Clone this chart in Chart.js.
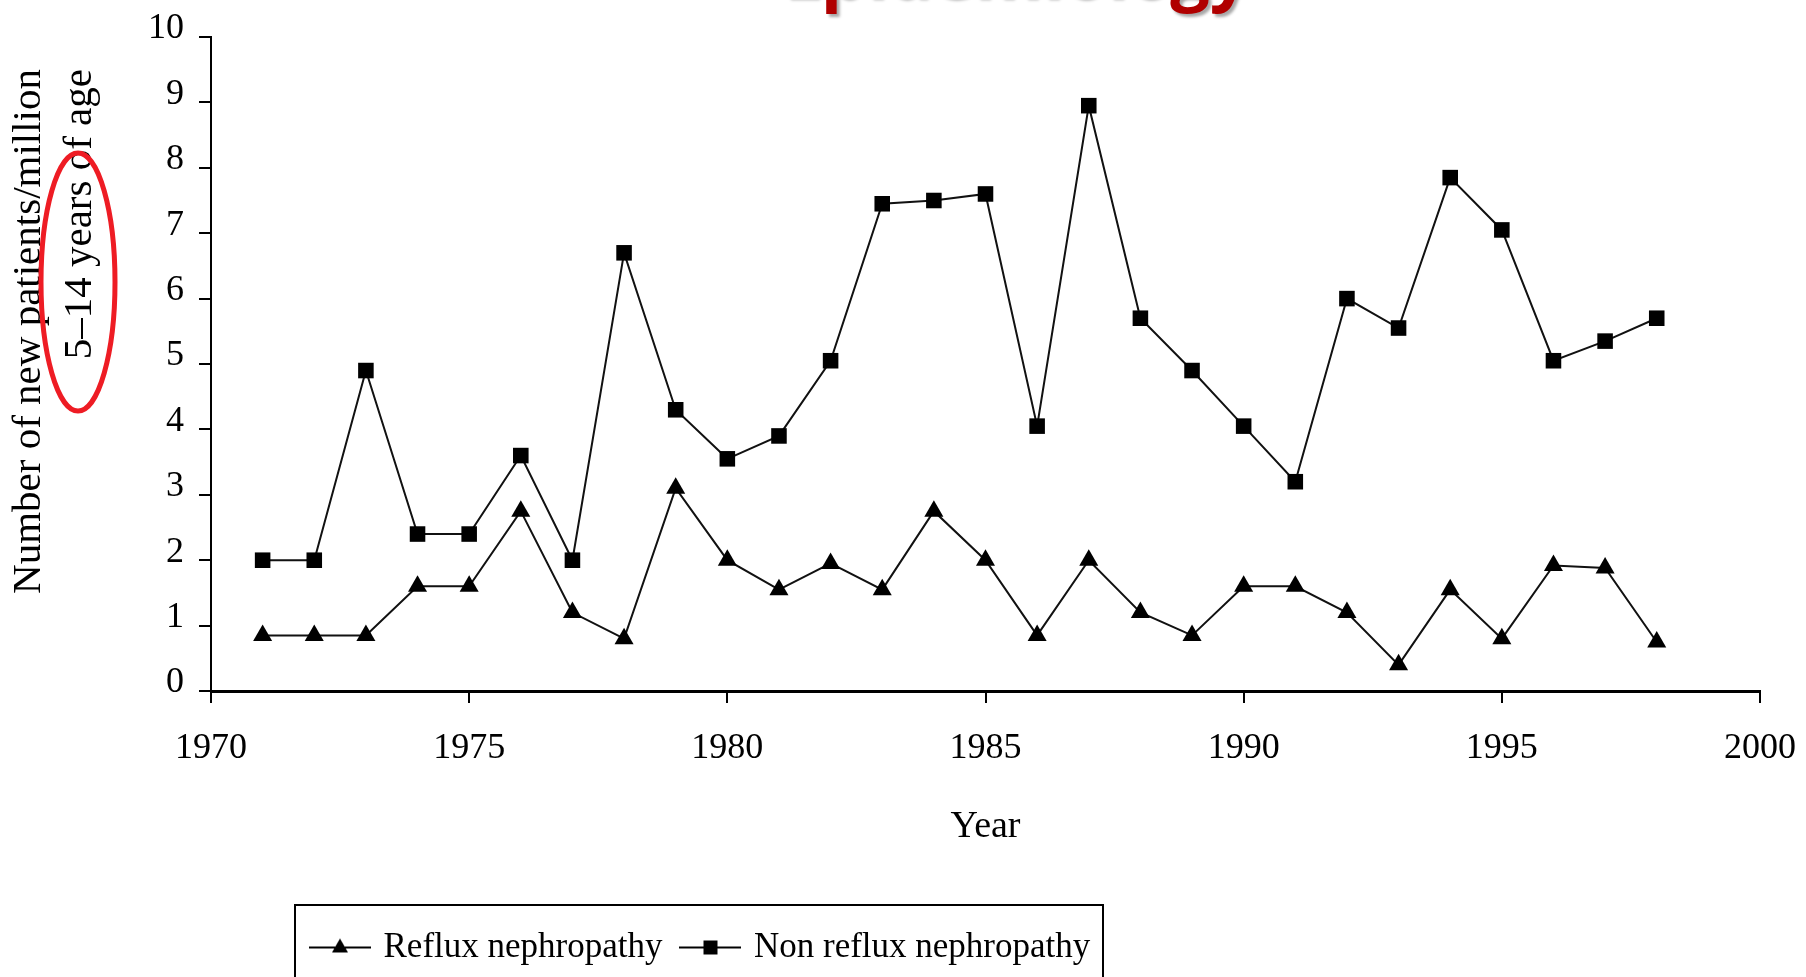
<!DOCTYPE html>
<html>
<head>
<meta charset="utf-8">
<script src="https://cdn.jsdelivr.net/npm/chart.js@4.4.0/dist/chart.umd.min.js"></script>
<style>
  html, body { margin: 0; padding: 0; background: #fff; }
</style>
</head>
<body>
<canvas id="myLineChart" width="1806" height="977"></canvas>
<script>
// data
var years = [1971, 1972, 1973, 1974, 1975, 1976, 1977, 1978, 1979, 1980,
             1981, 1982, 1983, 1984, 1985, 1986, 1987, 1988, 1989, 1990,
             1991, 1992, 1993, 1994, 1995, 1996, 1997, 1998];
var refluxValues = [0.85, 0.85, 0.85, 1.6, 1.6, 2.75, 1.2, 0.8, 3.1, 2.0,
                    1.55, 1.95, 1.55, 2.75, 2.0, 0.85, 2.0, 1.2, 0.85, 1.6,
                    1.6, 1.2, 0.4, 1.55, 0.8, 1.92, 1.88, 0.75];
var nonRefluxValues = [2.0, 2.0, 4.9, 2.4, 2.4, 3.6, 2.0, 6.7, 4.3, 3.55,
                       3.9, 5.05, 7.45, 7.5, 7.6, 4.05, 8.95, 5.7, 4.9, 4.05,
                       3.2, 6.0, 5.55, 7.85, 7.05, 5.05, 5.35, 5.7];
var seriesNames = ["Reflux nephropathy", "Non reflux nephropathy"];
var xTickValues = [1970, 1975, 1980, 1985, 1990, 1995, 2000];
var yTickValues = [0, 1, 2, 3, 4, 5, 6, 7, 8, 9, 10];
var yTitleLines = ["Number of new patients/million", "5\u201314 years of age"];
var xTitle = "Year";
var slideTitle = "Epidemiology";

var serif = "'Liberation Serif', 'Times New Roman', serif";

function toPoints(xs, ys) {
  var pts = [];
  for (var i = 0; i < xs.length; i++) pts.push({ x: xs[i], y: ys[i] });
  return pts;
}

// little "line + marker" pictures for the legend
function legendIcon(style) {
  var c = document.createElement("canvas");
  c.width = 62;
  c.height = 24;
  var g = c.getContext("2d");
  g.strokeStyle = "#000";
  g.lineWidth = 2;
  g.beginPath();
  g.moveTo(0, 12);
  g.lineTo(62, 12);
  g.stroke();
  g.fillStyle = "#000";
  if (style == "triangle") {
    g.beginPath();
    g.moveTo(31, 3);
    g.lineTo(39, 17);
    g.lineTo(23, 17);
    g.closePath();
    g.fill();
  } else {
    g.fillRect(24, 5, 14, 14);
  }
  return c;
}
var legendIcons = [legendIcon("triangle"), legendIcon("rect")];

// extra bits of the slide: cut-off red heading, two-line y title, red ellipse, legend box
var slideExtras = {
  id: "slideExtras",
  afterLayout: function (chart) {
    var lg = chart.legend;
    lg.left = 292;
    lg.right = 1300;
    lg.top = 908;
    lg.bottom = 977;
  },
  beforeDraw: function (chart) {
    var ctx = chart.ctx;
    ctx.save();
    ctx.font = "bold 70px 'Open Sans', sans-serif";
    ctx.textBaseline = "alphabetic";
    var pre = ctx.measureText("E").width;
    var pw = ctx.measureText("p").width;
    ctx.shadowColor = "rgba(0,0,0,0.35)";
    ctx.shadowOffsetX = 3;
    ctx.shadowOffsetY = 3;
    ctx.shadowBlur = 3;
    ctx.fillStyle = "#b00000";
    ctx.fillText(slideTitle, 843 - pre - pw / 2, -3);
    ctx.restore();
  },
  afterDraw: function (chart) {
    var ctx = chart.ctx;
    ctx.save();
    ctx.fillStyle = "#000";
    ctx.font = "41px " + serif;
    ctx.textAlign = "right";
    ctx.textBaseline = "middle";
    ctx.translate(29, 69);
    ctx.rotate(-Math.PI / 2);
    ctx.fillText(yTitleLines[0], 0, 0);
    ctx.fillText(yTitleLines[1], 0, 51);
    ctx.restore();

    ctx.save();
    ctx.strokeStyle = "#ee1c24";
    ctx.lineWidth = 5;
    ctx.beginPath();
    ctx.ellipse(78, 282, 37, 129, 0, 0, Math.PI * 2);
    ctx.stroke();
    ctx.restore();

    ctx.save();
    ctx.strokeStyle = "#000";
    ctx.lineWidth = 2;
    ctx.strokeRect(295, 905, 808, 100);
    ctx.restore();
  }
};

var ctx = document.getElementById("myLineChart").getContext("2d");
var myLineChart = new Chart(ctx, {
  type: "line",
  data: {
    datasets: [{
      label: seriesNames[0],
      data: toPoints(years, refluxValues),
      borderColor: "#111",
      backgroundColor: "#000",
      borderWidth: 2,
      pointStyle: "triangle",
      pointRadius: 11,
      pointBorderWidth: 0,
      tension: 0
    }, {
      label: seriesNames[1],
      data: toPoints(years, nonRefluxValues),
      borderColor: "#111",
      backgroundColor: "#000",
      borderWidth: 2,
      pointStyle: "rect",
      pointRadius: 11,
      pointBorderWidth: 0,
      tension: 0
    }]
  },
  options: {
    responsive: false,
    animation: false,
    layout: { padding: { top: 37, right: 46, left: 0, bottom: 0 } },
    plugins: {
      tooltip: { enabled: false },
      legend: {
        display: true,
        position: "bottom",
        align: "start",
        maxHeight: 1,
        labels: {
          usePointStyle: true,
          pointStyleWidth: 52,
          padding: 22,
          color: "#000",
          font: { family: serif, size: 35 },
          generateLabels: function (chart) {
            var items = Chart.defaults.plugins.legend.labels.generateLabels(chart);
            items.forEach(function (it, i) { it.pointStyle = legendIcons[i]; });
            return items;
          }
        }
      }
    },
    scales: {
      x: {
        type: "linear",
        min: xTickValues[0],
        max: xTickValues[xTickValues.length - 1],
        afterBuildTicks: function (scale) {
          scale.ticks = xTickValues.map(function (v) { return { value: v }; });
        },
        afterFit: function (scale) {
          scale.height = 285;
          scale.paddingRight = 46;
        },
        grid: { drawOnChartArea: false, drawTicks: true, tickLength: 12, color: "#000", lineWidth: 2 },
        border: { color: "#000", width: 3 },
        ticks: {
          color: "#000",
          padding: 24,
          maxRotation: 0,
          font: { family: serif, size: 36 },
          callback: function (v) { return String(v); }
        },
        title: {
          display: true,
          text: xTitle,
          color: "#000",
          font: { family: serif, size: 38 },
          padding: { top: 0, bottom: 126 }
        }
      },
      y: {
        min: yTickValues[0],
        max: yTickValues[yTickValues.length - 1],
        afterBuildTicks: function (scale) {
          scale.ticks = yTickValues.map(function (v) { return { value: v }; });
        },
        afterFit: function (scale) { scale.width = 211; },
        grid: { drawOnChartArea: false, drawTicks: true, tickLength: 12, color: "#000", lineWidth: 2 },
        border: { color: "#000", width: 2 },
        ticks: {
          color: "#000",
          padding: 15,
          labelOffset: -8,
          font: { family: serif, size: 36 }
        }
      }
    }
  },
  plugins: [slideExtras]
});
</script>
</body>
</html>
